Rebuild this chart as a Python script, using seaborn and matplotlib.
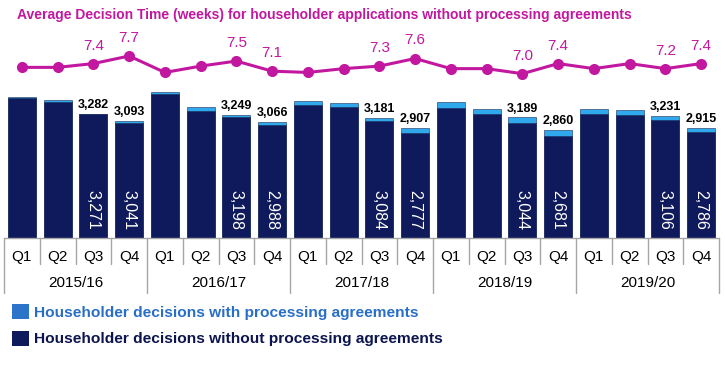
import pandas as pd
import matplotlib
matplotlib.use('Agg')
import matplotlib.pyplot as plt
import matplotlib.transforms as mtransforms
from matplotlib.lines import Line2D
from matplotlib.patches import Patch
import seaborn as sns

# Data
years = ['2015/16', '2016/17', '2017/18', '2018/19', '2019/20']
quarters = ['Q1', 'Q2', 'Q3', 'Q4']
total_decisions = [3713, 3634, 3282, 3093,
                   3863, 3459, 3249, 3066,
                   3617, 3572, 3181, 2907,
                   3581, 3414, 3189, 2860,
                   3406, 3388, 3231, 2915]
without_agreements = [3688, 3599, 3271, 3041,
                      3793, 3362, 3198, 2988,
                      3511, 3449, 3084, 2777,
                      3423, 3282, 3044, 2681,
                      3283, 3248, 3106, 2786]
avg_weeks = [7.25, 7.25, 7.4, 7.7,
             7.05, 7.3, 7.5, 7.1,
             7.05, 7.2, 7.3, 7.6,
             7.2, 7.2, 7.0, 7.4,
             7.2, 7.4, 7.2, 7.4]

sns.set_style('white')
plt.rcParams['font.family'] = ['Liberation Sans', 'DejaVu Sans']

dark = '#0e1a5b'
light = '#2fa9ec'
magenta = '#c2189f'

df = pd.DataFrame({
    'year': [y for y in years for q in quarters],
    'quarter': quarters * len(years),
    'total': total_decisions,
    'without': without_agreements,
    'weeks': avg_weeks,
})
df['period'] = df['year'] + ' ' + df['quarter']

W, H = 725, 367
fig = plt.figure(figsize=(W / 100, H / 100), dpi=100)
ax = fig.add_axes([4 / W, 1 - 238 / H, 715 / W, 198 / H])

# stacked bars: total (light) underneath, without-agreements (dark) over it
sns.barplot(data=df, x='period', y='total', color=light, saturation=1,
            width=0.78, errorbar=None, ax=ax, edgecolor='#1b2a55', linewidth=0.4)
sns.barplot(data=df, x='period', y='without', color=dark, saturation=1,
            width=0.78, errorbar=None, ax=ax, edgecolor='#1b2a55', linewidth=0.4)
ax.set_xlim(-0.5, len(df) - 0.5)
ax.set_ylim(0, 5228)
ax.axis('off')

# average decision time line
ax2 = ax.twinx()
sns.lineplot(data=df, x='period', y='weeks', sort=False, color=magenta,
             linewidth=2.2, marker='o', markersize=8, markeredgewidth=0, ax=ax2)
ax2.set_ylim(0.506, 8.332)
ax2.set_xlim(-0.5, len(df) - 0.5)
ax2.axis('off')

# labels on Q3 and Q4 only
for i, row in df.iterrows():
    if row['quarter'] in ('Q3', 'Q4'):
        ax.text(i, row['total'] + 70, f"{row['total']:,}", ha='center', va='bottom',
                fontsize=9, fontweight='bold', color='black')
        ax.text(i, 205, f"{row['without']:,}", ha='center', va='bottom',
                rotation=270, fontsize=11.5, color='white')
        ax2.annotate(f"{row['weeks']:.1f}", (i, row['weeks']), xytext=(0, 13),
                     textcoords='offset points', ha='center', va='center',
                     fontsize=11, color=magenta)

# two-level category axis
trans = mtransforms.blended_transform_factory(ax.transData, fig.transFigure)
grey = '#a6a6a6'
ax.add_line(Line2D([-0.5, len(df) - 0.5], [1 - 238 / H] * 2, transform=trans,
                   color=grey, lw=1, clip_on=False))
for k in range(len(df) + 1):
    bottom = 293 if k % 4 == 0 else 264
    ax.add_line(Line2D([k - 0.5, k - 0.5], [1 - 238 / H, 1 - bottom / H], transform=trans,
                       color=grey, lw=1, clip_on=False))
for i, row in df.iterrows():
    ax.text(i, 1 - 257 / H, row['quarter'], transform=trans, ha='center', va='center',
            fontsize=11, color='black')
for j, y in enumerate(years):
    ax.text(j * 4 + 1.5, 1 - 283 / H, y, transform=trans, ha='center', va='center',
            fontsize=11, color='black')

# title
fig.text(17 / W, 1 - 14.5 / H,
         'Average Decision Time (weeks) for householder applications without processing agreements',
         ha='left', va='center', fontsize=10, fontweight='bold', color=magenta)

# legend
handles = [Patch(facecolor='#2b74c9', edgecolor='none'),
           Patch(facecolor=dark, edgecolor='none')]
labels = ['Householder decisions with processing agreements',
          'Householder decisions without processing agreements']
fig.legend(handles, labels, loc='upper left', bbox_to_anchor=(6 / W, 1 - 298 / H),
           frameon=False, prop={'weight': 'bold', 'size': 11.15},
           labelcolor=['#2a6fc6', '#0c154f'], handlelength=1.1, handleheight=1.1,
           handletextpad=0.3, labelspacing=0.7, borderaxespad=0)

fig.savefig('out.png', dpi=100)
